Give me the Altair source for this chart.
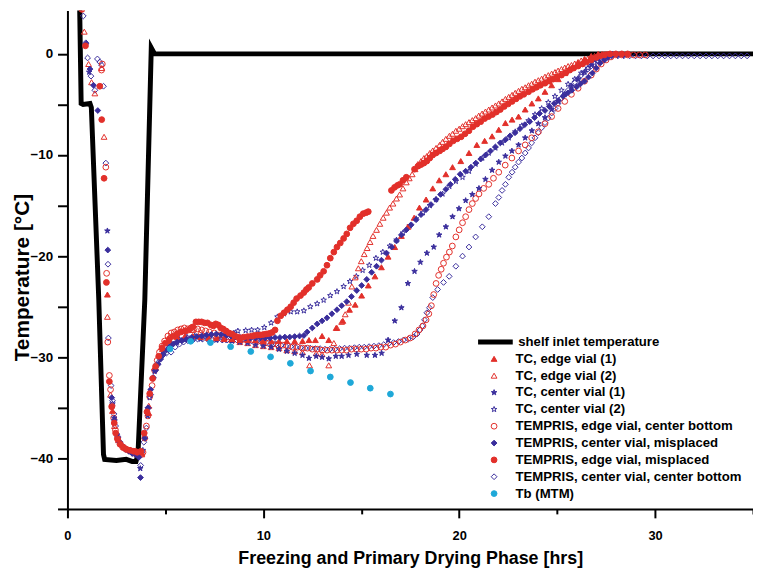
import altair as alt
import pandas as pd

# ---------------- data (hours, temperature °C) ----------------
shelf_hours = [0.0, 0.62, 0.7, 0.8, 1.15, 1.22, 1.6, 1.84, 1.9, 2.5, 3.0, 3.3, 3.5, 3.6, 3.95, 4.28, 4.45, 35.0]
shelf_temps = [5.3, 5.1, -4.9, -5.0, -4.9, -5.3, -24.3, -39.6, -40.1, -40.2, -40.1, -40.3, -40.3, -39.6, -24.3, 0.6, 0.0, 0.0]

# TEMPRIS, edge vial, center bottom (red open circles)
tempris_edge_cb = [
    (1.74, -1.6), (1.78, -1.0), (1.96, -11.2), (2.0, -21.7), (2.06, -28.5), (2.14, -31.8), (2.2, -33.2), (2.28, -34.8),
    (2.36, -36.0), (2.45, -37.2), (2.55, -38.0), (2.68, -38.6), (2.82, -38.9), (2.98, -39.1), (3.14, -39.2), (3.3, -39.3),
    (3.46, -39.3), (3.62, -39.4), (3.78, -39.6), (3.86, -39.4), (3.95, -38.0), (4.03, -36.8), (4.11, -35.8), (4.2, -33.9),
    (4.32, -32.8), (4.45, -31.3), (4.58, -30.3), (4.7, -29.5), (4.83, -28.9), (4.96, -28.4), (5.13, -27.9), (5.3, -27.6),
    (5.46, -27.5), (5.63, -27.3), (5.8, -27.2), (5.97, -27.1), (6.14, -27.2), (6.3, -27.1), (6.47, -27.15), (6.65, -27.2),
    (6.85, -27.3), (7.05, -27.4), (7.25, -27.5), (7.5, -27.6), (7.75, -27.8), (8.0, -27.9), (8.25, -28.0), (8.5, -28.0),
    (8.75, -28.1), (9.0, -28.2), (9.25, -28.2), (9.5, -28.3), (9.75, -28.4), (10.0, -28.5), (10.25, -28.6), (10.5, -28.7),
    (10.75, -28.8), (11.0, -28.8), (11.25, -28.9), (11.5, -29.0), (11.75, -29.0), (12.0, -29.1), (12.25, -29.1),
    (12.5, -29.2), (12.75, -29.2), (13.0, -29.3), (13.25, -29.3), (13.5, -29.3), (13.75, -29.3), (14.0, -29.3),
    (14.25, -29.3), (14.5, -29.2), (14.75, -29.2), (15.0, -29.2), (15.25, -29.2), (15.5, -29.1), (15.75, -29.1),
    (16.0, -29.0), (16.25, -29.0), (16.5, -28.8), (16.75, -28.7), (17.0, -28.5), (17.25, -28.3), (17.5, -28.1),
    (17.75, -27.7), (17.95, -27.3), (18.15, -26.9), (18.31, -26.3), (18.45, -25.7), (18.58, -24.9), (18.7, -23.8),
    (18.82, -22.7), (18.95, -21.9), (19.08, -21.3), (19.2, -20.7), (19.35, -20.1), (19.5, -19.6), (19.65, -19.0),
    (19.83, -18.1), (20.0, -17.4), (20.17, -16.7), (20.33, -16.1), (20.5, -15.4), (20.67, -14.8), (20.84, -14.3),
    (21.01, -13.85), (21.25, -13.3), (21.51, -12.9), (21.75, -12.3), (22.02, -11.7), (22.35, -11.0), (22.69, -10.3),
    (23.03, -9.6), (23.37, -9.0), (23.7, -8.3), (24.04, -7.7), (24.38, -6.9), (24.72, -6.2), (25.05, -5.4), (25.39, -4.7),
    (25.73, -4.0), (26.07, -3.4), (26.4, -2.7), (26.74, -2.1), (27.0, -1.5), (27.25, -1.0), (27.5, -0.6), (27.75, -0.3),
    (28.0, -0.1), (28.3, -0.1), (28.6, -0.1), (28.9, -0.1), (29.2, -0.1), (29.5, -0.1),
]

# TEMPRIS, center vial, center bottom (blue open diamonds)
tempris_center_cb = [
    (0.81, 3.75), (0.94, 1.1), (1.03, -0.4), (1.2, -2.2), (1.4, -3.6), (1.53, -0.5), (1.65, -0.8), (1.74, -1.1),
    (1.84, -3.2), (1.96, -10.8), (2.07, -20.8), (2.09, -28.1), (2.23, -32.8), (2.3, -34.3), (2.38, -35.6), (2.46, -36.8),
    (2.56, -37.8), (2.68, -38.4), (2.82, -38.8), (2.98, -39.1), (3.14, -39.3), (3.3, -39.5), (3.46, -39.6), (3.6, -39.8),
    (3.74, -40.7), (3.9, -38.4), (4.03, -37.0), (4.15, -35.0), (4.25, -33.7), (4.37, -32.1), (4.48, -31.2), (4.59, -30.6),
    (4.74, -30.1), (4.87, -29.8), (5.05, -29.6), (5.29, -29.5), (5.5, -29.0), (5.72, -28.7), (5.93, -28.5), (6.14, -28.35),
    (6.4, -28.3), (6.64, -28.2), (6.9, -28.2), (7.15, -28.2), (7.4, -28.25), (7.65, -28.25), (7.9, -28.3), (8.15, -28.3),
    (8.4, -28.3), (8.65, -28.3), (8.9, -28.35), (9.15, -28.35), (9.4, -28.4), (9.65, -28.45), (9.9, -28.5), (10.15, -28.55),
    (10.4, -28.65), (10.65, -28.7), (10.9, -28.8), (11.15, -28.9), (11.4, -28.95), (11.65, -29.0), (11.9, -29.05),
    (12.15, -29.1), (12.4, -29.1), (12.65, -29.15), (12.9, -29.15), (13.15, -29.2), (13.4, -29.2), (13.65, -29.2),
    (13.9, -29.15), (14.15, -29.1), (14.4, -29.1), (14.65, -29.05), (14.9, -29.0), (15.15, -29.0), (15.4, -28.95),
    (15.65, -28.9), (15.9, -28.85), (16.15, -28.75), (16.4, -28.65), (16.65, -28.55), (16.9, -28.45), (17.15, -28.3),
    (17.4, -28.2), (17.65, -28.0), (17.85, -27.7), (18.0, -27.3), (18.12, -26.9), (18.23, -26.3), (18.35, -25.6),
    (18.48, -25.1), (18.65, -24.1), (18.9, -23.3), (19.2, -22.6), (19.49, -22.0), (19.83, -21.0), (20.17, -20.0),
    (20.5, -19.1), (20.84, -18.1), (21.18, -17.1), (21.51, -16.1), (21.85, -14.8), (22.02, -14.2), (22.19, -13.5),
    (22.36, -12.9), (22.53, -12.2), (22.7, -11.7), (22.86, -11.2), (23.03, -10.7), (23.2, -10.3), (23.37, -9.8),
    (23.54, -9.3), (23.7, -8.8), (23.87, -8.3), (24.04, -7.8), (24.21, -7.3), (24.38, -6.8), (24.55, -6.35), (24.72, -5.85),
    (24.89, -5.4), (25.05, -4.9), (25.22, -4.4), (25.39, -4.0), (25.56, -3.6), (25.73, -3.2), (25.9, -2.8), (26.07, -2.45),
    (26.23, -2.1), (26.4, -1.8), (26.57, -1.5), (26.74, -1.2), (26.91, -1.0), (27.08, -0.7), (27.25, -0.5), (27.42, -0.35),
    (27.58, -0.25), (27.8, -0.2), (28.1, -0.2), (28.4, -0.2), (28.7, -0.2), (29.0, -0.2), (29.3, -0.2), (29.6, -0.2),
    (29.9, -0.2), (30.2, -0.2), (30.5, -0.2), (30.8, -0.2), (31.1, -0.2), (31.4, -0.2), (31.7, -0.2), (32.0, -0.2),
    (32.3, -0.2), (32.6, -0.2), (32.9, -0.2), (33.2, -0.2), (33.5, -0.2), (33.8, -0.2), (34.1, -0.2), (34.4, -0.2),
    (34.7, -0.2),
]

# TEMPRIS, center vial, misplaced (blue filled diamonds)
tempris_center_mis = [
    (0.94, 1.0), (1.15, -1.5), (1.33, -3.1), (1.55, -5.6), (2.06, -19.4), (2.26, -34.0), (2.4, -36.2), (2.52, -37.6),
    (2.66, -38.4), (2.82, -38.8), (2.98, -39.1), (3.15, -39.3), (3.32, -39.5), (3.5, -39.6), (3.65, -39.9), (3.73, -41.9),
    (3.95, -38.0), (4.11, -35.0), (4.25, -33.2), (4.38, -32.0), (4.5, -31.3), (4.63, -30.7), (4.75, -30.2), (4.9, -29.7),
    (5.05, -29.3), (5.2, -29.0), (5.4, -28.7), (5.6, -28.5), (5.83, -28.35), (6.08, -28.2), (6.34, -28.05), (6.6, -27.95),
    (6.85, -27.9), (7.1, -27.8), (7.35, -27.75), (7.6, -27.7), (7.85, -27.75), (8.1, -27.8), (8.35, -27.9), (8.6, -28.0),
    (8.85, -28.05), (9.1, -28.1), (9.35, -28.1), (9.6, -28.1), (9.85, -28.1), (10.1, -28.1), (10.35, -28.1),
    (10.6, -28.05), (10.85, -28.05), (11.1, -28.0), (11.35, -28.0), (11.6, -27.95), (11.85, -27.9), (12.07, -27.85),
    (12.24, -27.5), (12.5, -27.1), (12.75, -26.7), (13.0, -26.4), (13.25, -26.1), (13.5, -25.7), (13.76, -25.3),
    (14.0, -24.9), (14.26, -24.5), (14.5, -24.0), (14.77, -23.4), (15.02, -22.9), (15.28, -22.3), (15.53, -21.6),
    (15.78, -21.0), (16.03, -20.4), (16.29, -19.7), (16.55, -19.1), (16.8, -18.5), (17.05, -17.9), (17.3, -17.4),
    (17.55, -16.9), (17.8, -16.4), (18.05, -15.9), (18.31, -15.4), (18.56, -14.9), (18.82, -14.4), (19.05, -13.9),
    (19.32, -13.4), (19.55, -12.9), (19.8, -12.4), (20.05, -11.9), (20.33, -11.6), (20.6, -11.2), (20.85, -10.8),
    (21.1, -10.4), (21.35, -10.0), (21.6, -9.6), (21.85, -9.2), (22.1, -8.8), (22.36, -8.5), (22.6, -8.1), (22.85, -7.8),
    (23.1, -7.4), (23.35, -7.0), (23.6, -6.7), (23.85, -6.3), (24.1, -5.9), (24.38, -5.6), (24.6, -5.2), (24.85, -4.9),
    (25.06, -4.6), (25.3, -4.2), (25.55, -3.85), (25.75, -3.6), (26.0, -3.25), (26.2, -2.95), (26.4, -2.7), (26.6, -2.3),
    (26.8, -1.9), (27.0, -1.4), (27.2, -0.9), (27.42, -0.6), (27.6, -0.35), (27.8, -0.15), (28.1, -0.1), (28.4, -0.1),
]

# TEMPRIS, edge vial, misplaced (red filled circles)
tempris_edge_mis = [
    (0.74, 4.4), (0.92, 0.8), (1.65, -3.2), (1.75, -6.5), (1.87, -12.3), (1.99, -22.6), (2.14, -32.4), (2.26, -34.9),
    (2.39, -36.5), (2.46, -37.5), (2.56, -38.1), (2.7, -38.6), (2.86, -38.9), (3.02, -39.1), (3.2, -39.2), (3.38, -39.3),
    (3.56, -39.4), (3.75, -39.3), (3.92, -37.5), (4.06, -35.4), (4.2, -33.6), (4.35, -32.1), (4.5, -30.9), (4.66, -29.9),
    (4.83, -29.1), (5.0, -28.6), (5.2, -28.2), (5.4, -27.9), (5.6, -27.7), (5.8, -27.5), (6.0, -27.4), (6.2, -27.3),
    (6.4, -27.0), (6.56, -26.5), (6.7, -26.5), (6.85, -26.5), (7.0, -26.6), (7.15, -26.6), (7.32, -26.8), (7.45, -26.9),
    (7.57, -26.7), (7.7, -26.8), (7.82, -27.1), (7.95, -27.2), (8.1, -27.4), (8.25, -27.6), (8.4, -27.7), (8.55, -27.9),
    (8.7, -28.0), (8.85, -28.1), (9.0, -28.0), (9.2, -27.95), (9.4, -27.9), (9.54, -27.85), (9.7, -27.8), (9.85, -27.8),
    (10.0, -27.75), (10.15, -27.7), (10.3, -27.65), (10.45, -27.55), (10.6, -27.3), (10.72, -26.4), (10.89, -25.9),
    (11.06, -25.6), (11.23, -25.3), (11.4, -25.0), (11.55, -24.6), (11.7, -24.2), (11.9, -23.9), (12.07, -23.6),
    (12.2, -23.3), (12.32, -23.1), (12.5, -22.7), (12.75, -22.3), (12.9, -21.9), (13.08, -21.5), (13.25, -20.9),
    (13.42, -20.2), (13.6, -19.6), (13.76, -19.1), (13.93, -18.7), (14.1, -18.25), (14.26, -17.8), (14.43, -17.2),
    (14.6, -16.8), (14.77, -16.5), (14.93, -16.1), (15.1, -15.8), (15.25, -15.7), (15.36, -15.6),
    (16.54, -13.5), (16.7, -13.2), (16.85, -13.0), (16.96, -12.9), (17.13, -12.5), (17.3, -12.2),
    (17.72, -11.4), (17.9, -11.1), (18.05, -10.95), (18.2, -10.8), (18.35, -10.6), (18.5, -10.3), (18.65, -10.0),
    (18.82, -9.8), (19.0, -9.6), (19.15, -9.4), (19.32, -9.2), (19.5, -8.9), (19.7, -8.6), (19.9, -8.4), (20.1, -8.2),
    (20.3, -7.9), (20.5, -7.6), (20.7, -7.2), (20.9, -6.95), (21.1, -6.7), (21.3, -6.4), (21.5, -6.2), (21.7, -6.0),
    (21.9, -5.75), (22.1, -5.5), (22.3, -5.2), (22.5, -4.95), (22.7, -4.7), (22.9, -4.45), (23.1, -4.2), (23.3, -4.0),
    (23.54, -3.75), (23.75, -3.5), (23.95, -3.3), (24.15, -3.1), (24.38, -2.9), (24.6, -2.7), (24.8, -2.5), (25.0, -2.3),
    (25.22, -2.1), (25.45, -1.85), (25.65, -1.6), (25.85, -1.4), (26.07, -1.2), (26.3, -1.0), (26.5, -0.8), (26.74, -0.6),
    (27.0, -0.35), (27.2, -0.2), (27.42, -0.1), (27.7, 0.0), (28.0, 0.0), (28.3, 0.0), (28.6, 0.0),
]

# TC, edge vial (2) (red open triangles)
tc_edge_2 = [
    (0.86, 2.2), (1.08, -1.0), (1.23, -2.8), (1.4, -3.9), (1.75, -1.4), (1.87, -8.2), (2.04, -26.0), (2.2, -33.7),
    (2.4, -36.8), (2.6, -38.2), (2.9, -38.9), (3.2, -39.2), (3.5, -39.4), (3.8, -39.6), (4.15, -34.8), (4.45, -31.0),
    (4.8, -29.0), (5.2, -28.0), (5.6, -27.6), (6.0, -27.4), (6.4, -27.3), (6.8, -27.5), (7.2, -27.7), (7.6, -27.9),
    (8.0, -28.1), (8.4, -28.3), (8.8, -28.5), (9.2, -28.6), (9.6, -28.8), (10.0, -28.9), (10.4, -29.0), (10.8, -29.1),
    (11.2, -29.3), (11.6, -29.4), (12.0, -29.5), (12.36, -30.8), (12.7, -29.6), (13.0, -29.7), (13.34, -30.8),
    (13.6, -28.6), (13.76, -27.1), (14.0, -26.5), (14.18, -25.75), (14.35, -24.6), (14.52, -23.0), (14.69, -22.1),
    (14.85, -21.2), (15.0, -20.5), (15.15, -19.8), (15.3, -19.2), (15.45, -18.6), (15.6, -18.0), (15.78, -17.4),
    (15.95, -16.8), (16.12, -16.2), (16.29, -15.7), (16.45, -15.2), (16.62, -14.8), (16.8, -14.3), (16.96, -13.9),
    (17.13, -13.3), (17.3, -12.7), (17.45, -12.3), (17.6, -11.9), (17.75, -11.4), (17.89, -10.9), (18.05, -10.6),
    (18.2, -10.3), (18.35, -10.1), (18.5, -9.8), (18.65, -9.55), (18.82, -9.3), (19.0, -9.0), (19.15, -8.7), (19.32, -8.4),
    (19.5, -8.1), (19.66, -7.9), (19.83, -7.6), (20.0, -7.4), (20.17, -7.15), (20.33, -6.95), (20.5, -6.75),
    (20.67, -6.55), (20.84, -6.35), (21.0, -6.1), (21.17, -5.9), (21.34, -5.7), (21.51, -5.5), (21.68, -5.3),
    (21.85, -5.1), (22.02, -4.9), (22.19, -4.7), (22.36, -4.45), (22.53, -4.25), (22.7, -4.05), (22.86, -3.85),
    (23.03, -3.65), (23.2, -3.45), (23.37, -3.3), (23.54, -3.1), (23.7, -2.95), (23.87, -2.75), (24.04, -2.6),
    (24.21, -2.45), (24.38, -2.25), (24.55, -2.1), (24.72, -1.95), (24.89, -1.8), (25.05, -1.65), (25.22, -1.5),
    (25.39, -1.35), (25.56, -1.2), (25.73, -1.1), (25.9, -0.95), (26.07, -0.8), (26.23, -0.65), (26.4, -0.55),
    (26.57, -0.45), (26.74, -0.3), (26.91, -0.2), (27.08, -0.1), (27.3, 0.0), (27.6, 0.0), (27.9, 0.0),
]

# TC, edge vial (1) (red filled triangles)
tc_edge_1 = [
    (2.04, -23.8), (2.3, -35.3), (2.6, -38.0), (2.9, -38.9), (3.2, -39.2), (3.5, -39.5), (3.8, -39.5), (4.15, -35.5),
    (4.5, -31.0), (4.85, -29.2), (5.2, -28.4), (5.6, -28.0), (6.0, -27.9), (6.4, -27.9), (6.8, -28.0), (7.2, -28.1),
    (7.6, -28.1), (8.0, -28.2), (8.4, -28.2), (8.8, -28.3), (9.2, -28.3), (9.6, -28.3), (10.0, -28.4), (10.4, -28.4),
    (10.8, -28.4), (11.2, -28.4), (11.6, -28.4), (12.0, -28.4), (12.33, -28.3), (12.66, -28.3), (13.0, -27.9),
    (13.34, -28.3), (13.72, -27.1), (14.06, -26.4), (14.4, -25.3), (14.69, -24.8), (15.02, -23.9), (15.36, -22.9),
    (15.7, -22.0), (16.03, -21.1), (16.37, -20.05), (16.71, -19.1), (17.05, -18.0), (17.38, -17.1), (17.7, -16.2),
    (17.97, -15.2), (18.31, -14.4), (18.65, -13.3), (18.98, -12.5), (19.32, -11.9), (19.66, -11.2), (20.08, -10.6),
    (20.5, -9.8), (20.9, -9.0), (21.3, -8.6), (21.68, -8.15), (22.02, -7.5), (22.36, -6.84), (22.7, -6.5), (23.03, -6.2),
    (23.37, -5.5), (23.71, -4.9), (24.04, -4.4), (24.38, -3.75), (24.72, -3.1), (25.06, -2.5), (25.4, -1.9),
    (25.73, -1.4), (26.07, -0.9), (26.4, -0.5), (26.74, -0.2), (27.1, 0.0), (27.5, 0.0),
]

# TC, center vial (1) (blue filled stars)
tc_center_1 = [
    (1.11, -1.8), (2.04, -17.5), (2.39, -36.0), (2.7, -38.5), (3.0, -39.1), (3.3, -39.4), (3.55, -39.6), (3.72, -41.0),
    (4.1, -35.8), (4.45, -31.4), (4.8, -29.8), (5.2, -28.9), (5.6, -28.5), (6.0, -28.3), (6.4, -28.2), (6.8, -28.2),
    (7.2, -28.2), (7.6, -28.3), (8.0, -28.3), (8.4, -28.4), (8.8, -28.5), (9.2, -28.6), (9.6, -28.8), (10.0, -28.9),
    (10.4, -29.0), (10.8, -29.2), (11.2, -29.4), (11.6, -29.6), (12.0, -29.8), (12.33, -30.1), (12.7, -29.9),
    (13.0, -30.0), (13.34, -30.15), (13.7, -29.9), (14.0, -29.9), (14.35, -29.8), (14.77, -29.7), (15.28, -29.8),
    (15.7, -29.8), (16.04, -29.6), (16.37, -28.3), (16.71, -26.4), (17.05, -25.1), (17.38, -22.7), (17.72, -21.5),
    (18.02, -20.6), (18.35, -19.7), (18.7, -19.1), (18.98, -17.9), (19.32, -17.1), (19.66, -16.1), (19.99, -15.3),
    (20.33, -14.5), (20.67, -13.9), (21.01, -13.3), (21.34, -12.4), (21.68, -11.5), (22.02, -10.7), (22.36, -10.1),
    (22.69, -9.6), (23.03, -9.0), (23.37, -8.3), (23.71, -7.6), (24.04, -6.9), (24.38, -6.3), (24.72, -5.5),
    (25.06, -4.7), (25.39, -4.0), (25.73, -3.2), (26.07, -2.5), (26.4, -1.8), (26.74, -1.1), (27.08, -0.5),
    (27.42, -0.15), (27.8, 0.0),
]

# TC, center vial (2) (blue open stars)
tc_center_2 = [
    (2.3, -34.6), (2.6, -38.0), (2.9, -38.9), (3.2, -39.3), (3.5, -39.6), (3.85, -39.2), (4.2, -34.0), (4.55, -30.8),
    (4.9, -29.3), (5.3, -28.6), (5.7, -28.2), (6.1, -28.0), (6.5, -27.9), (6.9, -27.9), (7.3, -27.9), (7.7, -27.9),
    (8.1, -27.8), (8.5, -27.6), (8.7, -27.4), (9.1, -27.35), (9.4, -27.3), (9.71, -27.3), (10.05, -27.05), (10.4, -26.6),
    (10.72, -26.0), (11.06, -25.7), (11.4, -25.5), (11.73, -25.5), (12.07, -25.4), (12.4, -25.0), (12.75, -24.7),
    (13.08, -24.35), (13.42, -23.9), (13.76, -23.5), (14.1, -23.0), (14.42, -22.5), (14.75, -22.0), (15.07, -21.4),
    (15.41, -20.9), (15.75, -20.2), (16.1, -19.6), (16.46, -19.0), (16.8, -18.4), (17.13, -17.7), (17.47, -17.0),
    (17.8, -16.3), (18.15, -15.7), (18.5, -15.0), (18.82, -14.4), (19.15, -13.85), (19.5, -13.1), (19.83, -12.6),
    (20.17, -12.2), (20.5, -11.6), (20.84, -10.9), (21.18, -10.3), (21.51, -9.8), (21.85, -9.3), (22.19, -8.8),
    (22.53, -8.3), (22.86, -7.7), (23.2, -7.1), (23.54, -6.6), (23.87, -6.0), (24.21, -5.4), (24.55, -4.8), (24.89, -4.2),
    (25.22, -3.6), (25.56, -3.0), (25.9, -2.5), (26.23, -1.9), (26.57, -1.4), (26.9, -0.9), (27.25, -0.45),
    (27.6, -0.15), (28.0, 0.0),
]

# Tb (MTM) (cyan dots)
tb_mtm_hours = [5.24, 6.29, 7.30, 8.33, 9.36, 10.37, 11.38, 12.41, 13.42, 14.45, 15.46, 16.49]
tb_mtm_temps = [-29.17, -28.42, -28.55, -28.95, -29.43, -29.96, -30.6, -31.36, -31.95, -32.5, -33.06, -33.64]

SERIES = [
    "TC, edge vial (1)", "TC, edge vial (2)", "TC, center vial (1)", "TC, center vial (2)",
    "TEMPRIS, edge vial, center bottom", "TEMPRIS, center vial, misplaced",
    "TEMPRIS, edge vial, misplaced", "TEMPRIS, center vial, center bottom", "Tb (MTM)",
]

# ---------------- styles ----------------
RED = "#e2302a"
BLUE = "#3a2e9c"
CYAN = "#1ea8d8"
STAR = ("M0,-1L0.235,-0.324L0.951,-0.309L0.38,0.124L0.588,0.809L0,0.4"
        "L-0.588,0.809L-0.38,0.124L-0.951,-0.309L-0.235,-0.324Z")
stroke_range = [RED, RED, BLUE, BLUE, RED, BLUE, RED, BLUE, CYAN]
fill_range = [RED, "transparent", BLUE, "transparent", "transparent", BLUE, RED, "transparent", CYAN]
shape_range = ["triangle-up", "triangle-up", STAR, STAR, "circle", "diamond", "circle", "diamond", "circle"]
size_range = [34, 34, 52, 52, 26, 32, 26, 32, 82]
FONT = "Liberation Sans"

# ---------------- tables ----------------
draw_order = [
    ("TEMPRIS, center vial, center bottom", tempris_center_cb),
    ("TEMPRIS, edge vial, center bottom", tempris_edge_cb),
    ("TC, center vial (2)", tc_center_2),
    ("TC, edge vial (2)", tc_edge_2),
    ("TC, center vial (1)", tc_center_1),
    ("TC, edge vial (1)", tc_edge_1),
    ("TEMPRIS, center vial, misplaced", tempris_center_mis),
    ("TEMPRIS, edge vial, misplaced", tempris_edge_mis),
]
rows = []
for name, pts in draw_order:
    for h, t in pts:
        rows.append({"hour": h, "temp": t, "series": name})
for h, t in zip(tb_mtm_hours, tb_mtm_temps):
    rows.append({"hour": h, "temp": t, "series": "Tb (MTM)"})
points_df = pd.DataFrame(rows)

shelf_df = pd.DataFrame({
    "hour": shelf_hours, "temp": shelf_temps,
    "idx": list(range(len(shelf_hours))),
    "name": ["shelf inlet temperature"] * len(shelf_hours),
})

# ---------------- axes ----------------
x_enc = alt.X(
    "hour:Q",
    scale=alt.Scale(domain=[0, 35], nice=False, zero=False),
    axis=alt.Axis(
        values=list(range(0, 36, 5)),
        labelExpr="datum.value % 10 === 0 ? datum.label : ''",
        title="Freezing and Primary Drying Phase [hrs]",
        grid=False, domainColor="black", domainWidth=2,
        tickColor="black", tickWidth=2,
        tickSize={"condition": {"test": "datum.value % 10 === 0", "value": 9}, "value": 5},
        labelFont=FONT, labelFontSize=13, labelFontWeight="bold", labelColor="black",
        labelPadding=12, labelFlush=False, labelOverlap=False,
        titleFont=FONT, titleFontSize=18, titleFontWeight="bold", titleColor="black",
        titleY=50, titleBaseline="middle",
    ),
)
y_enc = alt.Y(
    "temp:Q",
    scale=alt.Scale(domain=[-45, 4.28], nice=False, zero=False),
    axis=alt.Axis(
        values=list(range(-45, 1, 5)),
        labelExpr="datum.value % 10 === 0 ? datum.label : ''",
        title="Temperature [°C]",
        grid=False, domainColor="black", domainWidth=2,
        tickColor="black", tickWidth=2, tickSize=10,
        labelFont=FONT, labelFontSize=13.5, labelFontWeight="bold", labelColor="black",
        labelPadding=5, labelOverlap=False, labelFlush=False,
        titleFont=FONT, titleFontSize=21, titleFontWeight="bold", titleColor="black",
        titleAngle=270, titleX=-45, titleY=269, titleBaseline="middle", titleAlign="center",
    ),
)

# ---------------- layers ----------------
shelf_legend = alt.Legend(
    title=None, orient="none", legendX=412, legendY=326, padding=0, clipHeight=17,
    symbolType="stroke", symbolSize=1225, symbolStrokeWidth=5,
    labelOffset=3, labelFont=FONT, labelFontSize=13.3, labelFontWeight="bold",
    labelColor="black", labelLimit=400,
)
shelf = alt.Chart(shelf_df).mark_line(strokeWidth=5, clip=True, strokeJoin="miter").encode(
    x=x_enc, y=y_enc,
    order=alt.Order("idx:Q"),
    color=alt.Color("name:N", scale=alt.Scale(domain=["shelf inlet temperature"], range=["black"]),
                    legend=shelf_legend),
)

pts_legend = alt.Legend(
    title=None, orient="none", legendX=424, legendY=343, padding=0, clipHeight=17, rowPadding=0,
    labelOffset=15, labelFont=FONT, labelFontSize=13.3, labelFontWeight="bold",
    labelColor="black", labelLimit=400, symbolStrokeWidth=1, symbolOpacity=1,
)
points = alt.Chart(points_df).mark_point(clip=True, opacity=1, strokeWidth=1).encode(
    x=x_enc, y=y_enc,
    shape=alt.Shape("series:N", scale=alt.Scale(domain=SERIES, range=shape_range), legend=pts_legend),
    fill=alt.Fill("series:N", scale=alt.Scale(domain=SERIES, range=fill_range), legend=pts_legend),
    stroke=alt.Stroke("series:N", scale=alt.Scale(domain=SERIES, range=stroke_range), legend=pts_legend),
    size=alt.Size("series:N", scale=alt.Scale(domain=SERIES, range=size_range), legend=pts_legend),
)

chart = alt.layer(shelf, points).properties(
    width=692, height=503,
    autosize=alt.AutoSizeParams(type="none"),
    padding={"left": 60, "top": 0, "right": 0, "bottom": 58},
).configure_view(strokeWidth=0)

chart.save("out.html", embed_options={"renderer": "svg", "actions": False})
